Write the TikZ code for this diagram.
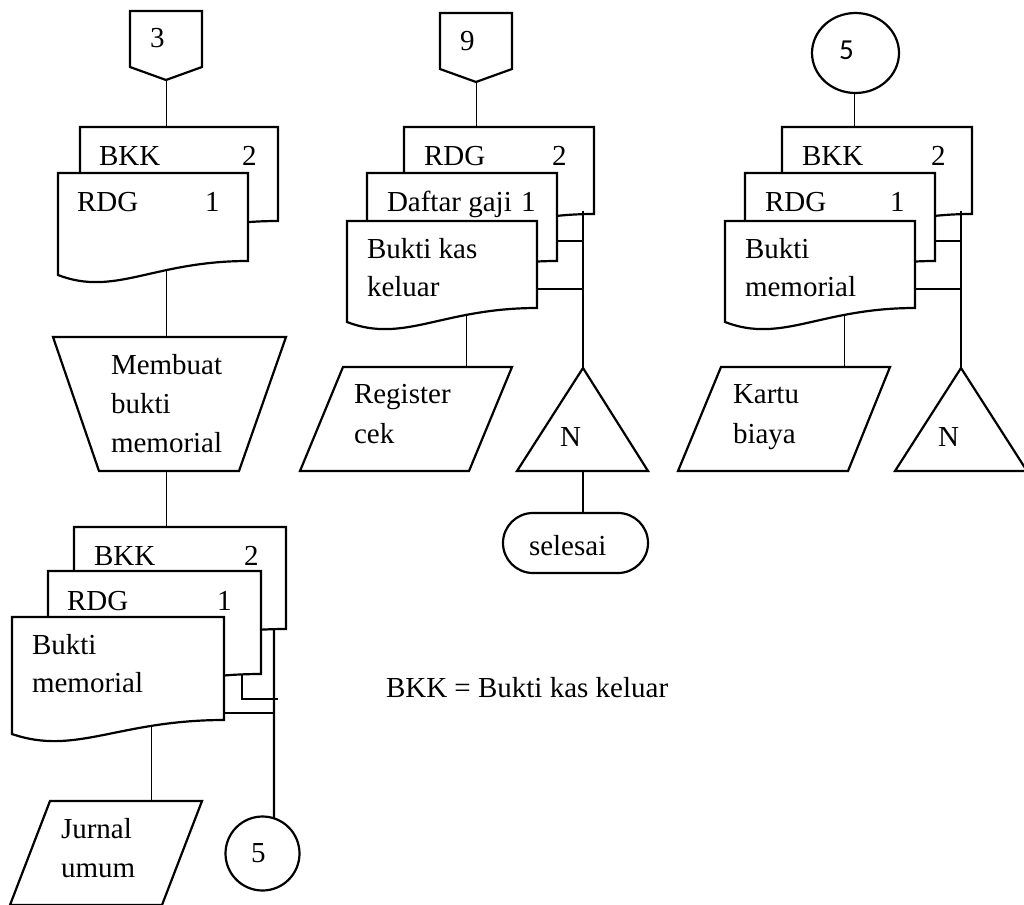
\documentclass[tikz,border=0pt]{standalone}
\usepackage{fontspec}
\setmainfont{Liberation Serif}
\newfontfamily\calibrifont{Carlito}
\usetikzlibrary{backgrounds,shapes.geometric}

% Document symbol: left x, right x, top y, y of the lower right corner
\newcommand\flowdoc[4]{%
  \filldraw[shapeline] (#1,#3) -- (#2,#3) -- (#2,#4)
    .. controls ({#1+0.5*(#2-#1)},#4) and ({#1+0.3*(#2-#1)},{#4+36}) .. (#1,{#4+14}) -- cycle;}

\begin{document}
\begin{tikzpicture}[x=1pt,y=-1pt,line width=2.2pt,
  shapeline/.style={draw=black,fill=white,line join=miter},
  lbl/.style={anchor=base west,inner sep=0pt,outer sep=0pt,font=\fontsize{29}{35}\selectfont},
  wire/.style={draw=black}]
\useasboundingbox (0,0) rectangle (1024,904);

% ---------------- left column, upper part ----------------
\filldraw[shapeline] (130,11) -- (202,11) -- (202,67) -- (166,80) -- (130,67) -- cycle;
\coordinate (off3-s) at (166,80);
\node[lbl] (t-3) at (150,48) {3};

\flowdoc{80}{278}{127}{221}
\flowdoc{58}{248}{173}{261}
\coordinate (lt-top) at (166,127);
\coordinate (lt-wave) at (166,266);
\node[lbl] (t-lt-bkk) at (99,165) {BKK};
\node[lbl] (t-lt-2) at (242,165) {2};
\node[lbl] (t-lt-rdg) at (77,211) {RDG};
\node[lbl] (t-lt-1) at (205,211) {1};

\filldraw[shapeline] (53,337) -- (286,337) -- (239,471) -- (99,471) -- cycle;
\coordinate (trap-n) at (166,337);
\coordinate (trap-s) at (166,471);
\node[lbl] (t-mb1) at (111,374) {Membuat};
\node[lbl] (t-mb2) at (111,413) {bukti};
\node[lbl] (t-mb3) at (111,452) {memorial};

% ---------------- left column, lower part ----------------
\flowdoc{74}{286}{527}{629}
\flowdoc{48}{261}{571}{674}
\flowdoc{12}{224}{617}{720}
\coordinate (lb-top) at (166,527);
\coordinate (lb-wave) at (151,722);
\node[lbl] (t-lb-bkk) at (94,565) {BKK};
\node[lbl] (t-lb-2) at (244,565) {2};
\node[lbl] (t-lb-rdg) at (67,610) {RDG};
\node[lbl] (t-lb-1) at (217,610) {1};
\node[lbl] (t-lb-b1) at (32,654) {Bukti};
\node[lbl] (t-lb-b2) at (32,692) {memorial};

\filldraw[shapeline] (50,801) -- (202,801) -- (162,905) -- (10,905) -- cycle;
\coordinate (jur-n) at (151,801);
\node[lbl] (t-jur1) at (61,838) {Jurnal};
\node[lbl] (t-jur2) at (61,877) {umum};

\node[draw,circle,minimum size=74pt,inner sep=0pt,outer sep=0pt] (c5b) at (262.5,853.5) {};
\node[lbl] (t-c5b) at (251,862) {5};

\coordinate (lb-bus) at (274,628);
\coordinate (lb-front-e) at (224,713);
\coordinate (lb-mid-s) at (242,674);
\coordinate (lb-mid-turn) at (242,699);
\coordinate (lb-mid-end) at (278,699);

% ---------------- middle column ----------------
\filldraw[shapeline] (440,13) -- (512,13) -- (512,69) -- (476,82) -- (440,69) -- cycle;
\coordinate (off9-s) at (476,82);
\node[lbl] (t-9) at (460,51) {9};

\flowdoc{404}{594}{127}{214}
\flowdoc{367}{557}{173}{261}
\flowdoc{347}{537}{221}{308}
\coordinate (m-top) at (476,127);
\coordinate (m-wave) at (466,313);
\node[lbl] (t-m-rdg) at (424,165) {RDG};
\node[lbl] (t-m-2) at (552,165) {2};
\node[lbl] (t-m-dg) at (387,211) {Daftar gaji};
\node[lbl] (t-m-1) at (521,211) {1};
\node[lbl] (t-m-b1) at (367,258) {Bukti kas};
\node[lbl] (t-m-b2) at (367,296) {keluar};

\filldraw[shapeline] (343,367) -- (512,367) -- (469,471) -- (300,471) -- cycle;
\coordinate (reg-n) at (466,367);
\node[lbl] (t-reg1) at (354,403) {Register};
\node[lbl] (t-reg2) at (354,443) {cek};

\coordinate (m-bus) at (583,211);
\coordinate (m-mid-e) at (557,241);
\coordinate (m-front-e) at (537,289);

\filldraw[shapeline] (583,368) -- (648,471) -- (517,471) -- cycle;
\coordinate (tm-apex) at (583,368);
\coordinate (tm-base) at (583,471);
\node[lbl] (t-nm) at (560,446) {N};

\node[draw,rectangle,rounded corners=30pt,minimum width=145pt,minimum height=60pt,
  inner sep=0pt,outer sep=0pt] (sel) at (575.5,543) {};
\node[lbl] (t-sel) at (529,555) {selesai};

% ---------------- right column ----------------
\node[draw,ellipse,minimum width=87pt,minimum height=80pt,inner sep=0pt,outer sep=0pt]
  (c5t) at (855.5,53) {};
\node[lbl,font=\fontsize{29}{35}\calibrifont] (t-c5t) at (839,60) {5};

\flowdoc{782}{972}{127}{214}
\flowdoc{745}{935}{173}{261}
\flowdoc{725}{915}{221}{308}
\coordinate (r-top) at (854,127);
\coordinate (r-wave) at (844,313);
\node[lbl] (t-r-bkk) at (802,165) {BKK};
\node[lbl] (t-r-2) at (931,165) {2};
\node[lbl] (t-r-rdg) at (765,211) {RDG};
\node[lbl] (t-r-1) at (890,211) {1};
\node[lbl] (t-r-b1) at (745,258) {Bukti};
\node[lbl] (t-r-b2) at (745,296) {memorial};

\filldraw[shapeline] (721,367) -- (890,367) -- (848,471) -- (678,471) -- cycle;
\coordinate (kar-n) at (844,367);
\node[lbl] (t-kar1) at (733,403) {Kartu};
\node[lbl] (t-kar2) at (733,443) {biaya};

\coordinate (r-bus) at (961,211);
\coordinate (r-mid-e) at (935,241);
\coordinate (r-front-e) at (915,289);

\filldraw[shapeline] (961,368) -- (1027,471) -- (895,471) -- cycle;
\coordinate (tr-apex) at (961,368);
\node[lbl] (t-nr) at (938,446) {N};

% ---------------- legend ----------------
\node[lbl] (legend) at (386,697) {BKK = Bukti kas keluar};

% ---------------- connectors ----------------
\begin{scope}[on background layer]
  \draw[wire] (off3-s) -- (lt-top);
  \draw[wire] (lt-wave) -- (trap-n);
  \draw[wire] (trap-s) -- (lb-top);
  \draw[wire] (lb-wave) -- (jur-n);
  \draw[wire] (off9-s) -- (m-top);
  \draw[wire] (m-wave) -- (reg-n);
  \draw[wire] (c5t.south -| r-top) -- (r-top);
  \draw[wire] (r-wave) -- (kar-n);
\end{scope}

\draw[wire] (tm-base) -- (tm-base |- sel.north);

\draw[wire] (m-bus) -- (tm-apex);
\draw[wire] (m-mid-e) -- (m-mid-e -| m-bus);
\draw[wire] (m-front-e) -- (m-front-e -| m-bus);

\draw[wire] (r-bus) -- (tr-apex);
\draw[wire] (r-mid-e) -- (r-mid-e -| r-bus);
\draw[wire] (r-front-e) -- (r-front-e -| r-bus);

\draw[wire] (lb-bus) -- (c5b.72);
\draw[wire] (lb-front-e) -- (lb-front-e -| lb-bus);
\draw[wire] (lb-mid-s) -- (lb-mid-turn) -- (lb-mid-end);
\end{tikzpicture}
\end{document}
